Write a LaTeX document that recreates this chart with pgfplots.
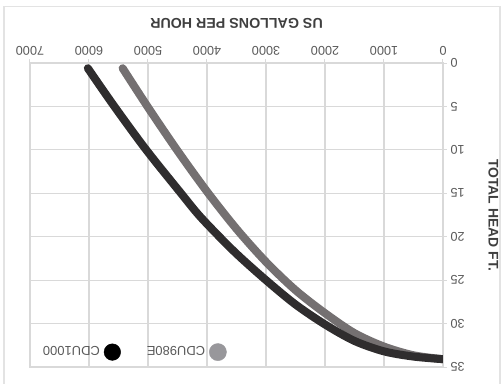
\documentclass[border=0pt]{standalone}
\usepackage{fontspec}
\setmainfont{Liberation Sans}
\usepackage{pgfplots}
\pgfplotsset{compat=1.18}
\definecolor{gridc}{HTML}{D9D9D9}
\definecolor{darkc}{HTML}{2F2D2E}
\definecolor{grayc}{HTML}{747071}
\definecolor{leggray}{HTML}{98979B}
\definecolor{tickc}{HTML}{595959}
\definecolor{labc}{HTML}{3F3F3F}
\definecolor{borderc}{HTML}{E3E3E3}
\begin{document}
\begin{tikzpicture}
\begin{axis}[
  scale only axis, width=413bp, height=304bp,
  x dir=reverse, y dir=reverse,
  xmin=0, xmax=7000, ymin=0, ymax=35,
  xtick={0,1000,...,7000}, ytick={0,5,...,35},
  scaled x ticks=false,
  /pgf/number format/1000 sep={},
  /pgf/number format/assume math mode=true,
  grid=major, grid style={gridc, line width=1.2bp},
  axis line style={gridc, line width=1.2bp},
  tick style={gridc, line width=1bp},
  tick align=outside, major tick length=4bp,
  xtick pos=right, ytick pos=right,
  xticklabel pos=right, yticklabel pos=right,
  xticklabel style={rotate=180, anchor=north, font=\fontsize{12.7}{13}\selectfont, text=tickc},
  yticklabel style={rotate=180, anchor=east, font=\fontsize{12.7}{13}\selectfont, text=tickc},
  xlabel={US GALLONS PER HOUR},
  ylabel={TOTAL HEAD FT.},
  xlabel style={at={(ticklabel cs:0.5,11bp)}, rotate=180, anchor=north, font=\fontsize{14.3}{15}\bfseries, text=labc},
  ylabel style={at={(ticklabel cs:0.5,17bp)}, rotate=180, anchor=south, font=\fontsize{14}{15}\bfseries, text=labc},
  legend columns=2,
  legend plot pos=right,
  legend style={draw=none, fill=none, at={(axis description cs:0.031,0.049)}, anchor=west,
    font=\fontsize{13}{13}\selectfont, text=tickc, inner sep=0pt,
    nodes={inner sep=0pt},
    /tikz/every even column/.append style={column sep=26bp}},
]
\addplot[grayc, line width=8bp, line cap=round, smooth, forget plot] coordinates {
 (5430,0.6) (5000,5.1) (4500,10.1) (4000,14.8) (3500,19.1) (3000,22.9) (2500,26.15) (2000,28.8) (1500,31.1) (1000,32.65) (500,33.65) (0,34.1)
};
\addplot[darkc, line width=8bp, line cap=round, smooth, forget plot] coordinates {
 (6020,0.6) (5570,5) (5030,10) (4440,15) (4100,17.8) (3540,21.7) (3000,25.0) (2500,27.8) (2000,30.1) (1500,32.0) (1000,33.2) (500,33.8) (0,34.1)
};
\addlegendimage{legend image code/.code={\path (0bp,0bp); \fill[black] (12.3bp,0bp) circle (8.3bp);}}
\addlegendentry{\rotatebox[origin=c]{180}{CDU1000}}
\addlegendimage{legend image code/.code={\path (0bp,0bp); \fill[leggray] (12.5bp,0bp) circle (8.6bp);}}
\addlegendentry{\rotatebox[origin=c]{180}{CDU980E}}
\end{axis}
\draw[borderc, line width=1.5bp] ([xshift=-26bp,yshift=-18bp]current axis.south west) -- ([xshift=-26bp,yshift=56.5bp]current axis.north west) -- ([xshift=57bp,yshift=56.5bp]current axis.north east) -- ([xshift=57bp,yshift=-18bp]current axis.south east);
\pgfresetboundingbox
\path[use as bounding box] ([xshift=-30bp,yshift=-17bp]current axis.south west) rectangle ([xshift=59bp,yshift=63bp]current axis.north east);
\end{tikzpicture}
\end{document}
